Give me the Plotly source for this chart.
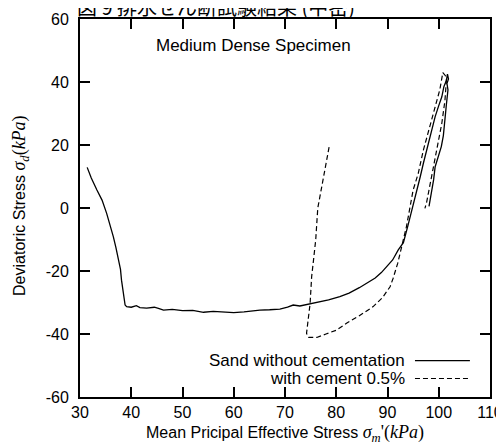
import plotly.graph_objects as go

# Sand without cementation (solid)
sand_x = [31.4, 32.2, 33.3, 34.3, 35.2, 35.9, 36.5, 37.0, 37.5, 37.9, 38.1, 38.4, 38.8, 39.1, 40.0,
          41.0, 41.7, 43.0, 44.5, 45.3, 46.3, 48.0, 50.0, 52.0, 54.1, 56.0, 58.0, 60.0, 62.0, 63.5,
          65.1, 67.0, 69.0, 70.5, 71.6, 72.9, 74.0, 75.5, 77.0, 78.5, 80.7, 82.5, 84.5, 85.9, 87.6,
          88.8, 89.8, 91.0, 92.1, 93.1, 94.0, 94.9, 95.7, 96.4, 97.0, 97.8, 98.6, 99.3, 100.0, 100.6,
          101.0, 101.5, 101.7,
          101.9, 101.6, 101.8, 101.5, 101.2, 100.9, 100.5, 100.0, 99.3, 99.0, 98.6, 98.3, 98.1]
sand_y = [12.9, 9.5, 5.7, 2.5, -1.7, -5.5, -9.1, -12.5, -16.5, -19.5, -22.9, -27.0, -30.8, -31.3, -31.5,
          -31.0, -31.6, -31.8, -31.5, -31.9, -32.4, -32.2, -32.6, -32.5, -33.1, -32.8, -33.0, -33.2, -33.0, -32.7,
          -32.4, -32.3, -32.1, -31.5, -30.8, -31.1, -30.7, -30.3, -29.6, -29.2, -28.1, -27.0, -25.3, -23.9, -22.2,
          -20.5, -18.6, -16.5, -13.3, -11.0, -5.5, 0.0, 5.7, 10.0, 14.2, 19.5, 24.8, 29.0, 32.5, 35.3,
          38.5, 40.6, 42.5,
          41.0, 39.5, 37.5, 33.0, 26.9, 23.0, 19.5, 16.5, 13.1, 9.0, 4.5, 1.5, 0.5]

# With cement 0.5% (dashed)
cem_x = [78.6, 78.0, 77.3, 76.8, 76.4, 76.2, 76.0, 75.6, 75.2, 74.9, 74.5, 74.2, 74.6, 75.5, 76.2,
         78.0, 80.0, 82.0, 84.5, 87.2, 89.0, 90.5, 91.1, 92.0, 92.7, 93.7, 95.0, 96.0, 97.0, 98.2,
         99.3, 100.2, 100.8, 101.3, 101.5, 101.2, 100.6, 100.1, 99.6, 99.1, 98.6, 98.1, 97.6, 97.3]
cem_y = [19.3, 14.0, 8.5, 3.6, 0.0, -4.9, -10.0, -16.0, -21.8, -30.3, -35.5, -39.8, -41.1, -41.2, -41.1,
         -40.0, -38.8, -36.6, -34.2, -31.3, -28.5, -25.0, -22.3, -17.5, -12.3, -5.9, 5.7, 11.0, 18.4, 25.5,
         32.2, 37.5, 43.0, 42.0, 40.6, 34.0, 26.9, 22.5, 18.4, 14.0, 9.9, 5.5, 1.5, -0.1]

x_ticks = [30, 40, 50, 60, 70, 80, 90, 100, 110]
x_ticktext = ["30", "40", "50", "60", "70", "80", "90", "100", "110"]
y_ticks = [-60, -40, -20, 0, 20, 40, 60]
y_ticktext = ["-60", "-40", "-20", "0", "20", "40", "60"]

series_names = ["Sand without cementation", "with cement 0.5%"]
title_text = "図 9 排水せん断試験結果 (中密)"
specimen_text = "Medium Dense Specimen"

FONT = "Liberation Sans, Arial, sans-serif"
SERIF = "font-family:Liberation Serif;font-size:18px"

fig = go.Figure()
fig.add_trace(go.Scatter(x=sand_x, y=sand_y, mode="lines", name=series_names[0],
                         line=dict(color="black", width=1.3), showlegend=False))
fig.add_trace(go.Scatter(x=cem_x, y=cem_y, mode="lines", name=series_names[1],
                         line=dict(color="black", width=1.2, dash="5px,3px"), showlegend=False))

axis_common = dict(showline=True, linecolor="black", linewidth=2, mirror="allticks",
                   ticks="inside", ticklen=10, tickwidth=1.5, tickcolor="black",
                   showgrid=False, zeroline=False, automargin=False,
                   tickfont=dict(family=FONT, size=16, color="black"))

fig.update_xaxes(range=[30, 110], tickvals=x_ticks, ticktext=x_ticktext, **axis_common)
fig.update_yaxes(range=[-60, 60], tickvals=y_ticks, ticktext=y_ticktext,
                 ticklabelstandoff=6, **axis_common)

annotations = [
    dict(text=title_text, xref="paper", yref="paper", x=0.332, y=1.034, showarrow=False,
         font=dict(family="Noto Sans CJK JP", size=20, color="black"), xanchor="center", yanchor="middle"),
    dict(text=specimen_text, xref="paper", yref="paper", x=0.424, y=0.931, showarrow=False,
         font=dict(family=FONT, size=17, color="black"), xanchor="center", yanchor="middle"),
    dict(text=series_names[0], xref="paper", yref="paper", x=0.7976, y=0.096, showarrow=False,
         font=dict(family=FONT, size=17, color="black"), xanchor="right", yanchor="middle"),
    dict(text=series_names[1], xref="paper", yref="paper", x=0.7976, y=0.049, showarrow=False,
         font=dict(family=FONT, size=17, color="black"), xanchor="right", yanchor="middle"),
    dict(text=f"Mean Pricipal Effective Stress <span style='{SERIF}'><i>σ<sub>m</sub></i>'(<i>kPa</i>)</span>",
         xref="paper", yref="paper", x=0.5, y=-0.097, showarrow=False,
         font=dict(family=FONT, size=16, color="black"), xanchor="center", yanchor="middle"),
    dict(text=f"Deviatoric Stress <span style='{SERIF}'><i>σ<sub>d</sub></i>(<i>kPa</i>)</span>",
         xref="paper", yref="paper", x=-0.144, y=0.508, showarrow=False, textangle=-90,
         font=dict(family=FONT, size=16, color="black"), xanchor="center", yanchor="middle"),
]

shapes = [
    dict(type="line", xref="paper", yref="paper", x0=0.817, x1=0.951, y0=0.096, y1=0.096,
         line=dict(color="black", width=1.3)),
    dict(type="line", xref="paper", yref="paper", x0=0.817, x1=0.951, y0=0.049, y1=0.049,
         line=dict(color="black", width=1.2, dash="5px,3px")),
]

# The page body adds an 8px offset; margins compensate so the plot lands where the reference has it.
fig.update_layout(width=504, height=448, margin=dict(l=72, r=22, t=11, b=59),
                  paper_bgcolor="white", plot_bgcolor="white",
                  annotations=annotations, shapes=shapes,
                  font=dict(family=FONT, color="black"))

fig.write_html("out.html")
